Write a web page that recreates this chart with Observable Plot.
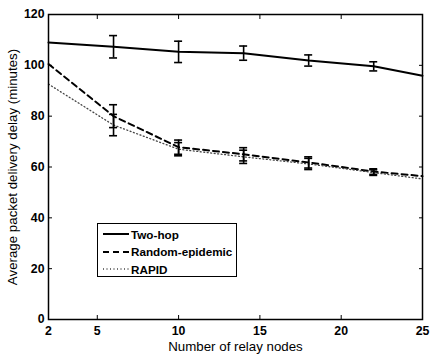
<!DOCTYPE html>
<html>
<head>
<meta charset="utf-8">
<script src="https://cdn.jsdelivr.net/npm/d3@7"></script>
<script src="https://cdn.jsdelivr.net/npm/@observablehq/plot@0.6"></script>
<style>
  html, body { margin: 0; padding: 0; background: #fff; }
  #wrap { position: relative; width: 430px; height: 356px; font-family: "Liberation Sans", Arial, sans-serif; }
  #wrap svg g[aria-label$="tick label"] text { font-weight: bold; font-size: 12.3px; }
  #wrap svg g[aria-label$="axis label"] text { font-size: 13.3px; }
  #legend { position: absolute; left: 97px; top: 223px; width: 138px; height: 52px; border: 1.3px solid #000; background: #fff; font-weight: bold; font-size: 11.7px; }
  #legend .row { position: absolute; left: 5px; height: 14px; display: flex; align-items: center; }
  #legend svg { width: 27px; height: 6px; margin-right: 1px; }
</style>
</head>
<body>
<div id="wrap"></div>
<script>
const relayNodes = [2, 6, 10, 14, 18, 22, 25];
const seriesNames = ["Two-hop", "Random-epidemic", "RAPID"];
const twoHop   = [109.0, 107.3, 105.3, 104.8, 101.9, 99.6, 95.9];
const twoHopErr = [null, 4.4, 4.2, 2.8, 2.2, 1.8, null];
const randomEpi = [100.5, 80.0, 67.8, 65.0, 61.8, 58.2, 56.4];
const randomErr = [null, 4.5, 2.8, 2.6, 2.2, 1.1, null];
const rapid     = [92.6, 76.5, 67.0, 64.0, 61.2, 57.8, 55.3];
const rapidErr  = [null, 4.2, 2.6, 2.6, 2.2, 1.1, null];
const xTicks = [2, 5, 10, 15, 20, 25];
const yTicks = [0, 20, 40, 60, 80, 100, 120];

const styles = {
  "Two-hop": {strokeWidth: 2, strokeDasharray: null, stroke: "#000"},
  "Random-epidemic": {strokeWidth: 2, strokeDasharray: "6,4", stroke: "#000"},
  "RAPID": {strokeWidth: 1.3, strokeDasharray: "1,2.5", stroke: "#444"}
};

const valuesBySeries = [twoHop, randomEpi, rapid];
const errBySeries = [twoHopErr, randomErr, rapidErr];
const rows = [];
seriesNames.forEach((s, i) => relayNodes.forEach((x, j) => rows.push({series: s, x, y: valuesBySeries[i][j], e: errBySeries[i][j]})));
const errRows = rows.filter(d => d.e != null);

const W = 430, H = 356, mL = 48, mR = 8, mT = 14, mB = 37;
const capHalf = 4 * (25 - 2) / (W - mL - mR); // 4px in data units

const lineMarks = seriesNames.map(s => Plot.line(rows.filter(d => d.series === s), {x: "x", y: "y", ...styles[s], strokeLinejoin: "round"}));

const chart = Plot.plot({
  width: W, height: H,
  marginLeft: mL, marginRight: mR, marginTop: mT, marginBottom: mB,
  style: {fontFamily: "Liberation Sans, Arial, sans-serif", fontSize: "12px", color: "#000", background: "#fff"},
  x: {domain: [2, 25]},
  y: {domain: [0, 120]},
  marks: [
    ...lineMarks,
    Plot.ruleX(errRows, {x: "x", y1: d => d.y - d.e, y2: d => d.y + d.e, stroke: "#000", strokeWidth: 1.6}),
    Plot.ruleY(errRows, {y: d => d.y - d.e, x1: d => d.x - capHalf, x2: d => d.x + capHalf, stroke: "#000", strokeWidth: 1.6}),
    Plot.ruleY(errRows, {y: d => d.y + d.e, x1: d => d.x - capHalf, x2: d => d.x + capHalf, stroke: "#000", strokeWidth: 1.6}),
    Plot.frame({stroke: "#000", strokeWidth: 1.5}),
    // labels
    Plot.axisY(yTicks, {anchor: "left", tickSize: 0, tickPadding: 4, label: "Average packet delivery delay (minutes)", labelAnchor: "center", labelOffset: 41, labelArrow: false}),
    Plot.axisX(xTicks, {anchor: "bottom", tickSize: 0, tickPadding: 7, label: "Number of relay nodes", labelAnchor: "center", labelOffset: 31, labelArrow: false}),
    // inward ticks
    Plot.axisY(yTicks, {anchor: "left", tickSize: 4, dx: 4, fill: "none", label: null, strokeWidth: 1}),
    Plot.axisY(yTicks, {anchor: "right", tickSize: 4, dx: -4, fill: "none", label: null, strokeWidth: 1}),
    Plot.axisX(xTicks, {anchor: "bottom", tickSize: 4, dy: -4, fill: "none", label: null, strokeWidth: 1}),
    Plot.axisX(xTicks, {anchor: "top", tickSize: 4, dy: 4, fill: "none", label: null, strokeWidth: 1})
  ]
});

const wrap = document.getElementById("wrap");
wrap.appendChild(chart);

const legend = document.createElement("div");
legend.id = "legend";
const rowTops = [3, 20.5, 38];
seriesNames.forEach((s, i) => {
  const st = styles[s];
  const row = document.createElement("div");
  row.className = "row";
  row.style.top = rowTops[i] + "px";
  row.innerHTML = `<svg viewBox="0 0 27 6"><line x1="0" y1="3" x2="26" y2="3" stroke="${st.stroke}" stroke-width="${st.strokeWidth}" ${st.strokeDasharray ? `stroke-dasharray="${st.strokeDasharray}"` : ""}/></svg><span>${s}</span>`;
  legend.appendChild(row);
});
wrap.appendChild(legend);
</script>
</body>
</html>
